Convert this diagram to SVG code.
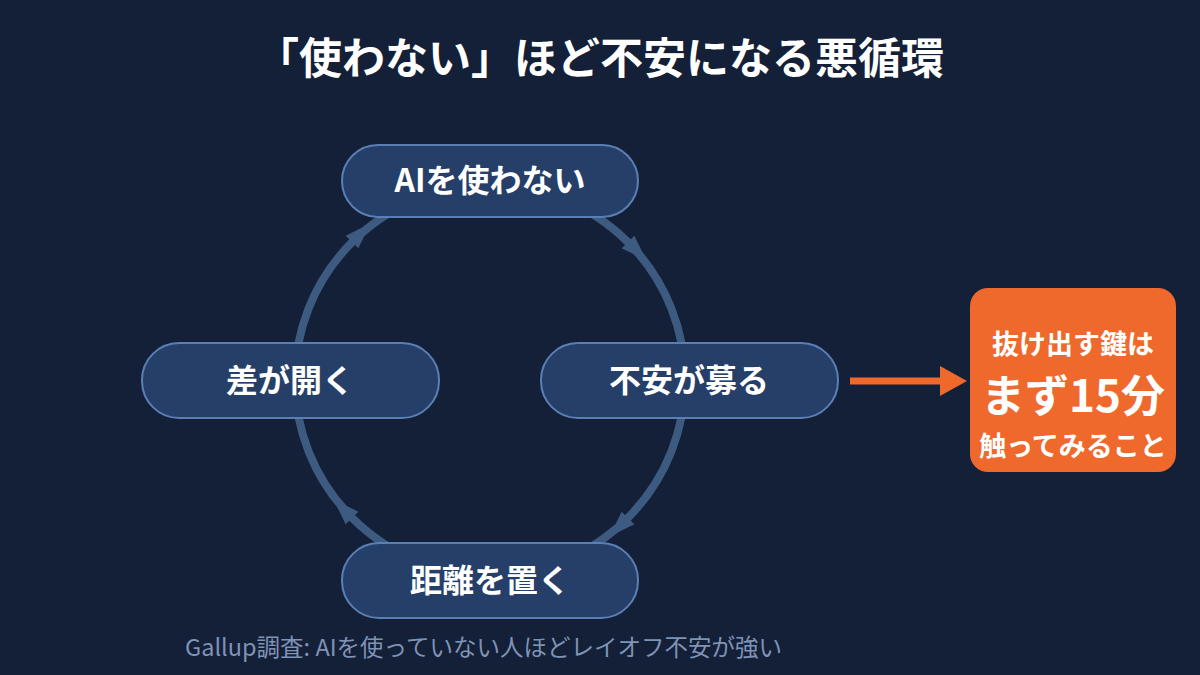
<svg xmlns="http://www.w3.org/2000/svg" width="1200" height="675" viewBox="0 0 1200 675">
<style>
text{font-family:"Noto Sans CJK JP","Noto Sans",sans-serif;text-anchor:middle;fill:#fff;font-weight:bold}
.node rect{fill:#253f68;stroke:#5a7fb5;stroke-width:2}
.nt{font-size:32px}
.ah{fill:#3d5a80}
</style>
<rect width="1200" height="675" fill="#141f38"/>
<text x="600" y="74" font-size="43">「使わない」ほど不安になる悪循環</text>
<g id="connectors">
<circle cx="490" cy="380" r="195" fill="none" stroke="#3d5a80" stroke-width="8"/>
<polygon class="ah" points="0,-9 26,0 0,9" transform="translate(352,242) rotate(-45)"/>
<polygon class="ah" points="0,-9 26,0 0,9" transform="translate(628,242) rotate(45)"/>
<polygon class="ah" points="0,-9 26,0 0,9" transform="translate(628,518) rotate(135)"/>
<polygon class="ah" points="0,-9 26,0 0,9" transform="translate(352,518) rotate(-135)"/>
<line x1="850" y1="381" x2="942" y2="381" stroke="#f0692c" stroke-width="7"/>
<polygon points="940,366 967,381 940,396" fill="#f0692c"/>
</g>
<g id="n1" class="node"><rect x="342" y="145" width="296" height="72" rx="36"/><text class="nt" x="490" y="192">AIを使わない</text></g>
<g id="n2" class="node"><rect x="541" y="343" width="297" height="75" rx="37"/><text class="nt" x="689" y="392">不安が募る</text></g>
<g id="n3" class="node"><rect x="342" y="543" width="296" height="75" rx="37"/><text class="nt" x="490" y="592">距離を置く</text></g>
<g id="n4" class="node"><rect x="142" y="343" width="297" height="75" rx="37"/><text class="nt" x="290" y="392">差が開く</text></g>
<g id="key"><rect x="970" y="288" width="206" height="184" rx="18" fill="#f0692c"/>
<text x="1073" y="354" font-size="27">抜け出す鍵は</text>
<text x="1073" y="412" font-size="44">まず15分</text>
<text x="1073" y="456" font-size="27">触ってみること</text></g>
<text x="185" y="656" font-size="23.5" style="fill:#7f93b5;font-weight:normal;text-anchor:start">Gallup調査: AIを使っていない人ほどレイオフ不安が強い</text>
</svg>
